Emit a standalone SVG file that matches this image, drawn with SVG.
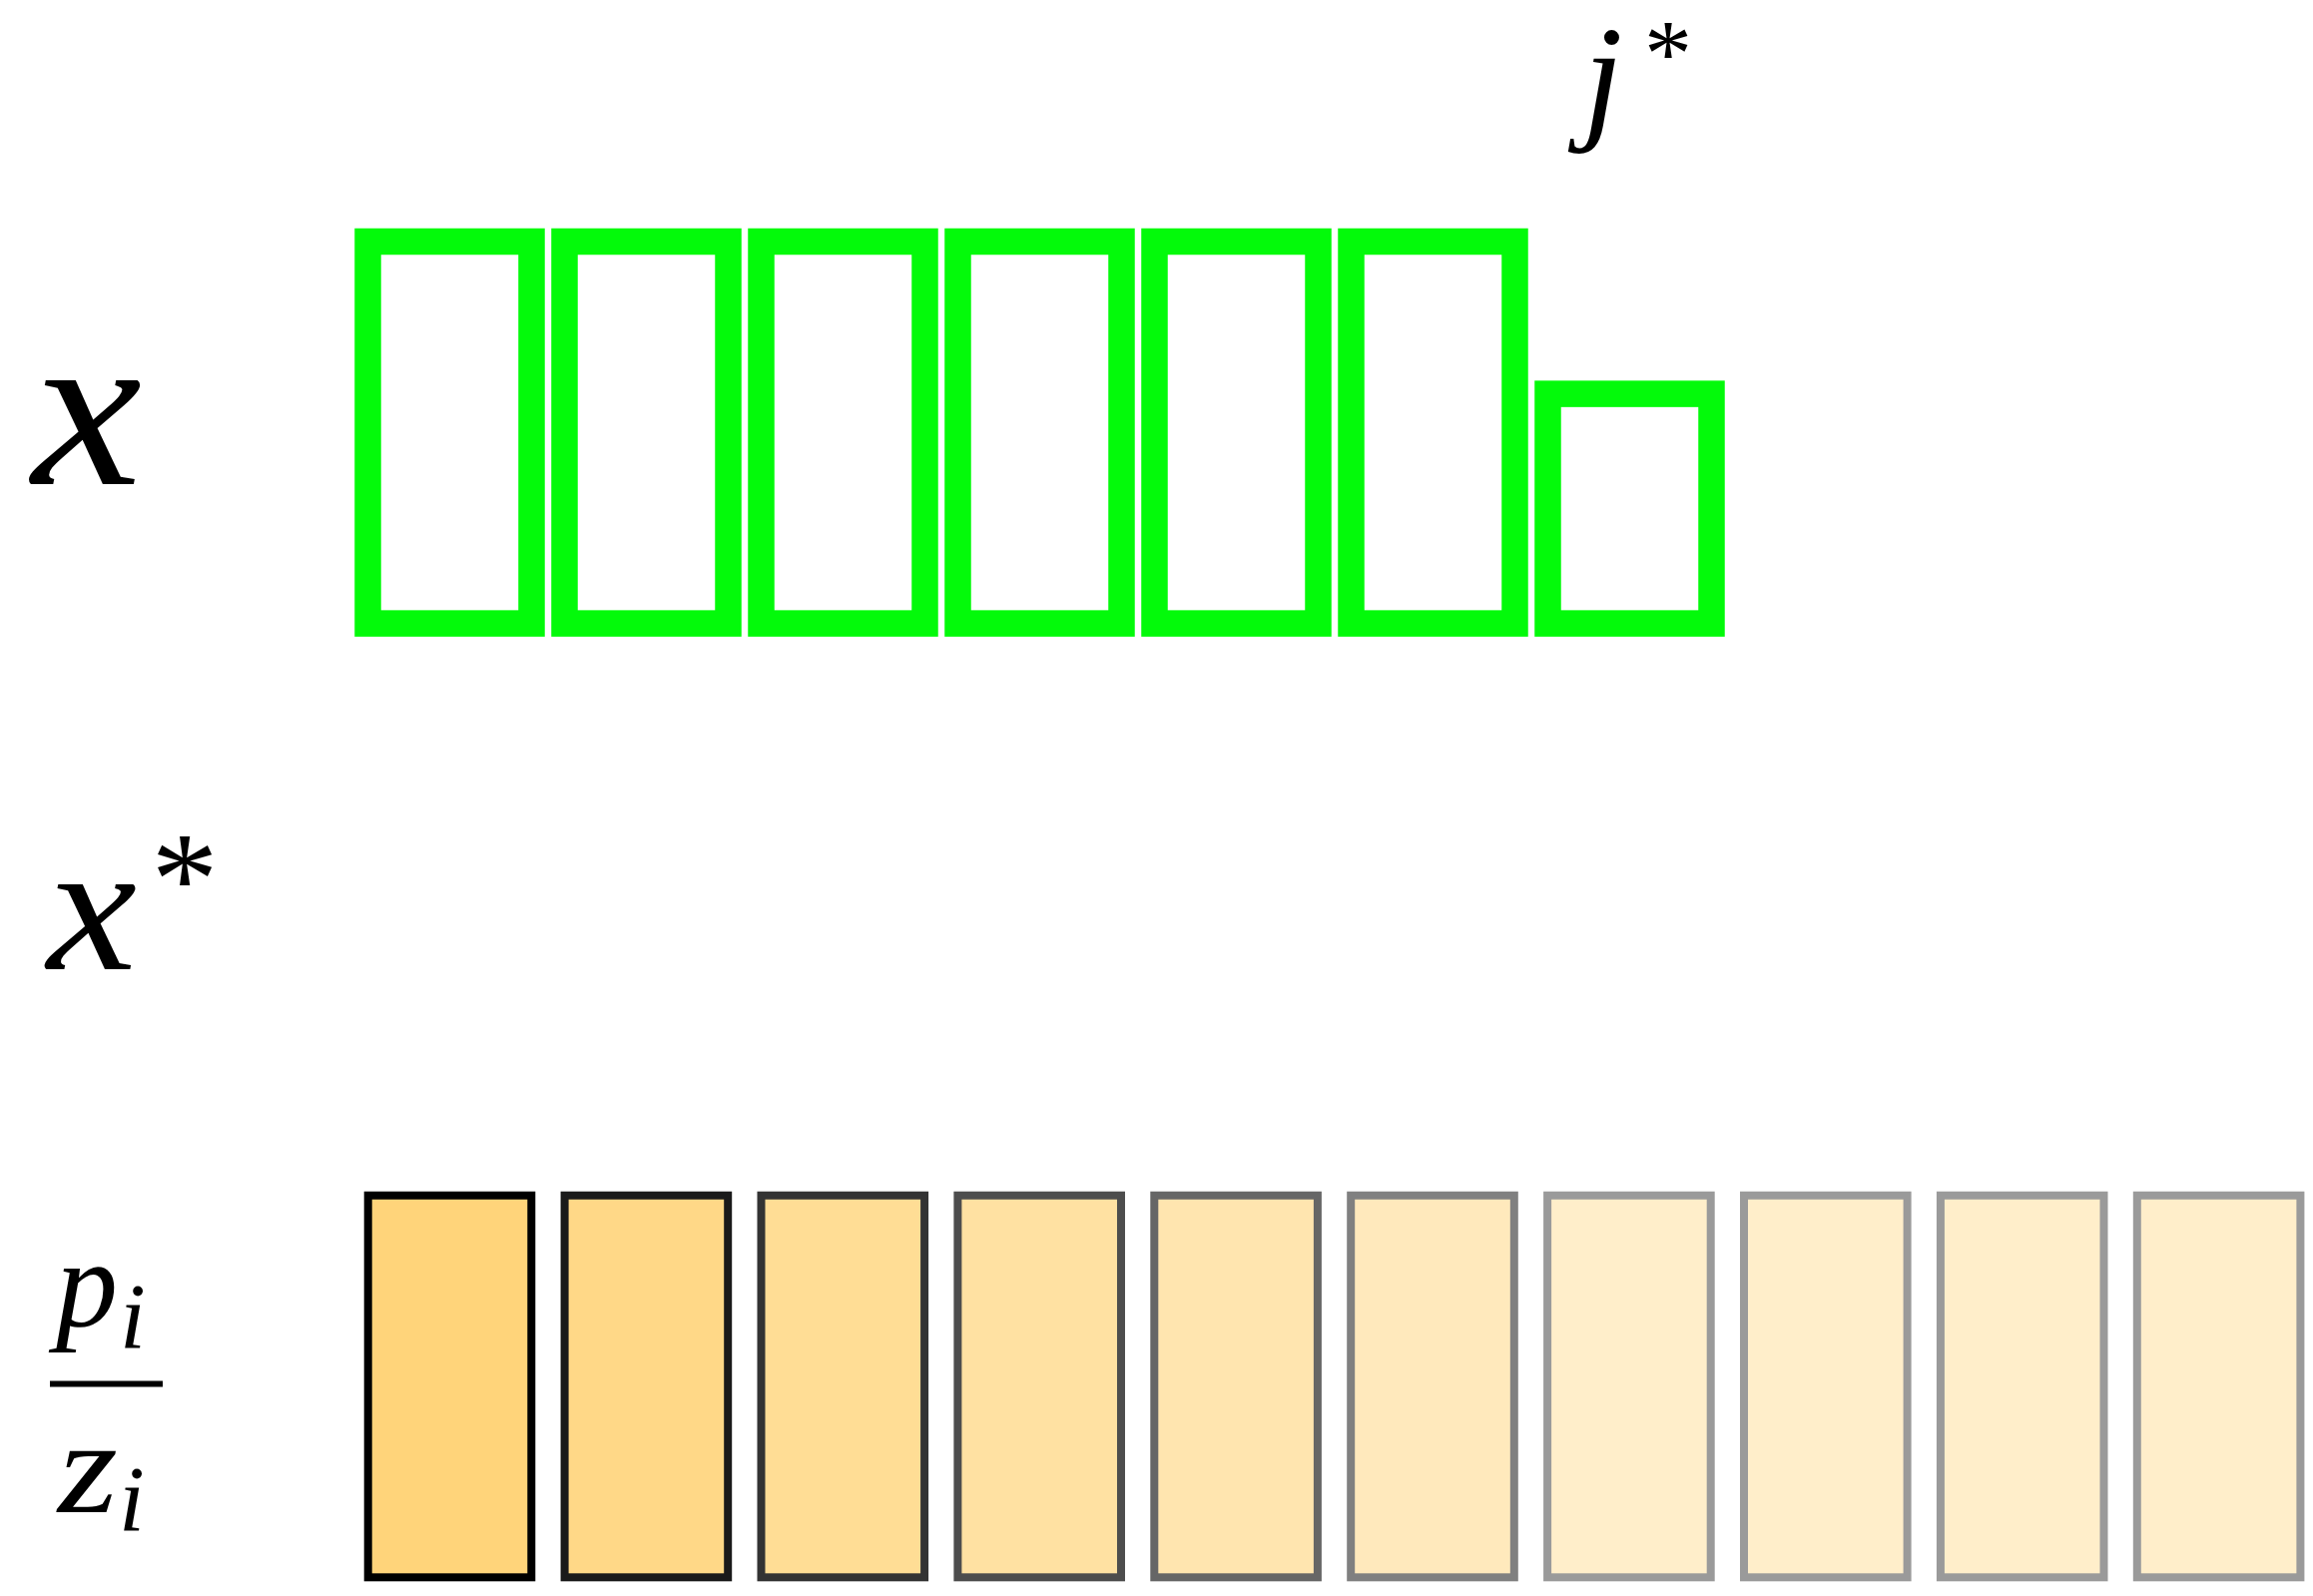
<svg xmlns="http://www.w3.org/2000/svg" width="2317" height="1599" viewBox="0 0 2317 1599">
<style>
  .lbl { font-family: "Liberation Serif", "Times New Roman", serif; font-style: italic; fill: #000; }
  .ast { font-family: "Liberation Serif", "Times New Roman", serif; font-style: normal; fill: #000; }
  .g { fill: none; stroke: #03FA0A; stroke-width: 26.5; }
  .b { stroke-width: 8; }
</style>
<rect width="2317" height="1599" fill="#fff"/>
<g id="labels">
  <g id="label-jstar">
    <text class="lbl" x="1586" y="124" font-size="142">j</text>
    <text class="ast" x="1671" y="86" font-size="96" text-anchor="middle">*</text>
  </g>
  <g id="label-x">
    <text class="lbl" x="32" y="485" font-size="227" textLength="110" lengthAdjust="spacingAndGlyphs">x</text>
  </g>
  <g id="label-xstar">
    <text class="lbl" x="47" y="971" font-size="184" textLength="90" lengthAdjust="spacingAndGlyphs">x</text>
    <text class="ast" x="185" y="926" font-size="134" text-anchor="middle">*</text>
  </g>
  <g id="label-ratio">
    <text class="lbl" x="56" y="1328" font-size="124">p</text>
    <text class="lbl" x="120" y="1350" font-size="93">i</text>
    <line x1="50" y1="1386.5" x2="163" y2="1386.5" stroke="#000" stroke-width="6"/>
    <text class="lbl" x="58" y="1515" font-size="134" textLength="60" lengthAdjust="spacingAndGlyphs">z</text>
    <text class="lbl" x="119" y="1533" font-size="93">i</text>
  </g>
</g>
<g id="x-cells">
  <rect id="x1" class="g" x="368.5" y="242" width="164" height="382.6"/>
  <rect id="x2" class="g" x="565.5" y="242" width="164" height="382.6"/>
  <rect id="x3" class="g" x="762.5" y="242" width="164" height="382.6"/>
  <rect id="x4" class="g" x="959.5" y="242" width="164" height="382.6"/>
  <rect id="x5" class="g" x="1156.5" y="242" width="164" height="382.6"/>
  <rect id="x6" class="g" x="1353.5" y="242" width="164" height="382.6"/>
  <rect id="x7" class="g" x="1550.5" y="394.6" width="164" height="230"/>
</g>
<g id="ratio-cells">
  <rect id="r1" class="b" x="368.7" y="1197.7" width="163.6" height="382.6" fill="#FFD47A" stroke="#000000"/>
  <rect id="r2" class="b" x="565.6" y="1197.7" width="163.6" height="382.6" fill="#FFD887" stroke="#1A1A1A"/>
  <rect id="r3" class="b" x="762.5" y="1197.7" width="163.6" height="382.6" fill="#FFDD95" stroke="#333333"/>
  <rect id="r4" class="b" x="959.4" y="1197.7" width="163.6" height="382.6" fill="#FFE1A2" stroke="#4D4D4D"/>
  <rect id="r5" class="b" x="1156.3" y="1197.7" width="163.6" height="382.6" fill="#FFE5AF" stroke="#666666"/>
  <rect id="r6" class="b" x="1353.2" y="1197.7" width="163.6" height="382.6" fill="#FFE9BC" stroke="#808080"/>
  <rect id="r7" class="b" x="1550.1" y="1197.7" width="163.6" height="382.6" fill="#FFEECA" stroke="#9A9A9A"/>
  <rect id="r8" class="b" x="1747.0" y="1197.7" width="163.6" height="382.6" fill="#FFEECA" stroke="#9A9A9A"/>
  <rect id="r9" class="b" x="1943.9" y="1197.7" width="163.6" height="382.6" fill="#FFEECA" stroke="#9A9A9A"/>
  <rect id="r10" class="b" x="2140.8" y="1197.7" width="163.6" height="382.6" fill="#FFEECA" stroke="#9A9A9A"/>
</g>
<g id="connectors"/>
</svg>
